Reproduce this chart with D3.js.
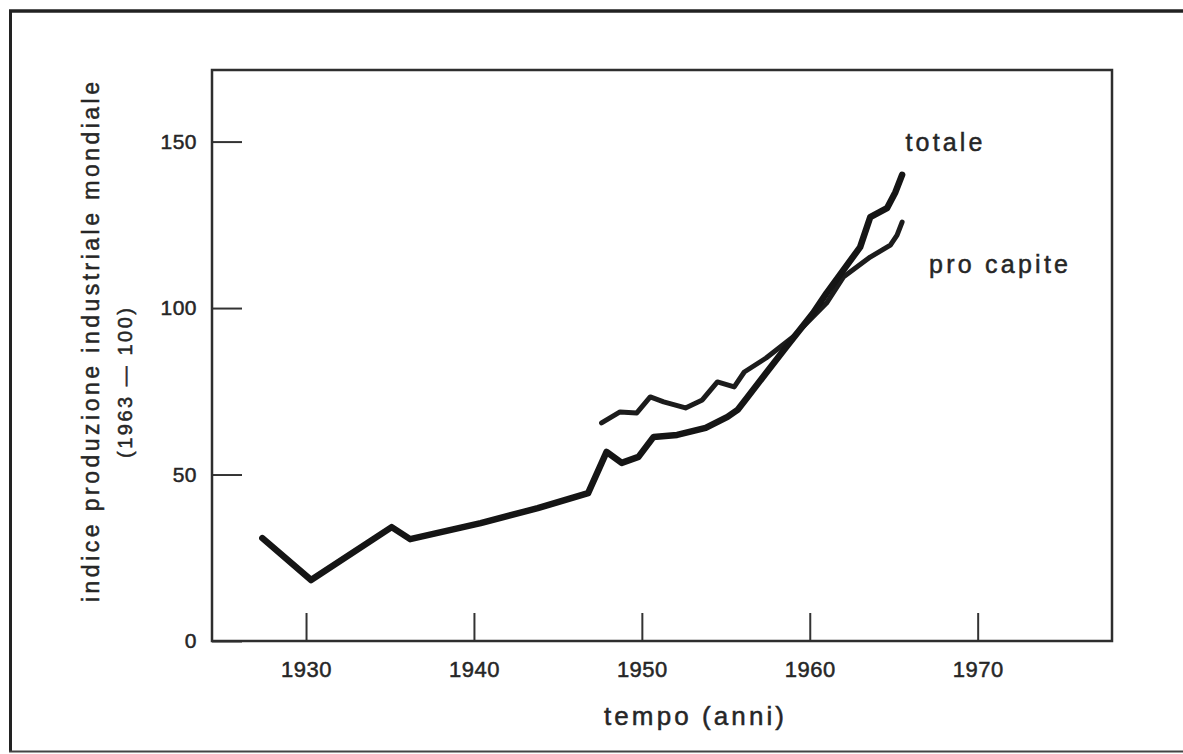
<!DOCTYPE html>
<html>
<head>
<meta charset="utf-8">
<script src="https://cdn.jsdelivr.net/npm/d3@7"></script>
<style>
  body { margin: 0; background: #fff; }
  text { font-family: "Liberation Sans", Arial, Helvetica, sans-serif; fill: #262626; stroke: #262626; stroke-width: 0.5px; }
</style>
</head>
<body>
<div id="chart"></div>
<script>
// data (year, index 1963 = 100)
const totaleYears = [1927.4, 1930.3, 1935.1, 1936.2, 1940.4, 1943.8, 1946.8, 1947.9, 1948.8, 1949.8, 1950.7, 1952.1, 1953.8, 1955.1, 1955.7, 1956.3, 1957.4, 1958.6, 1960.2, 1961.0, 1963.0, 1963.6, 1964.6, 1965.1, 1965.5];
const totaleValues = [30.9, 18.3, 34.2, 30.6, 35.4, 39.9, 44.4, 56.8, 53.5, 55.3, 61.3, 61.9, 64.0, 67.3, 69.4, 73.3, 80.5, 88.3, 98.5, 104.5, 118.3, 127.3, 130.0, 134.8, 140.0];
const capiteYears = [1947.6, 1948.7, 1949.7, 1950.5, 1951.3, 1952.6, 1953.6, 1954.5, 1955.5, 1956.1, 1957.4, 1959.0, 1961.0, 1962.0, 1963.6, 1964.8, 1965.2, 1965.5];
const capiteValues = [65.5, 68.8, 68.5, 73.3, 71.8, 70.0, 72.4, 77.8, 76.3, 80.8, 85.0, 91.3, 101.5, 109.3, 115.3, 118.9, 121.9, 125.8];
const xTicks = [1930, 1940, 1950, 1960, 1970];
const yTicks = [0, 50, 100, 150];

const W = 1183, H = 754;
const margin = { top: 70, right: 71, bottom: 113, left: 212 },
    width = W - margin.left - margin.right,
    height = H - margin.top - margin.bottom;

const root = d3.select("#chart")
    .append("svg")
    .attr("width", W)
    .attr("height", H);

// page border of the scanned figure
root.append("line").attr("x1", 9).attr("x2", W).attr("y1", 11).attr("y2", 11)
    .attr("stroke", "#222").attr("stroke-width", 3.5);
root.append("line").attr("x1", 10.5).attr("x2", 10.5).attr("y1", 10).attr("y2", 752)
    .attr("stroke", "#222").attr("stroke-width", 3);
root.append("line").attr("x1", 9).attr("x2", W).attr("y1", 751.5).attr("y2", 751.5)
    .attr("stroke", "#444").attr("stroke-width", 2);

const svg = root.append("g")
    .attr("transform", `translate(${margin.left},${margin.top})`);

const x = d3.scaleLinear().domain([1924.4, 1978]).range([0, width]);
const y = d3.scaleLinear().domain([0, 171.5]).range([height, 0]);

// X axis, ticks pointing inward
const gx = svg.append("g")
    .attr("transform", `translate(0, ${height})`)
    .call(d3.axisBottom(x).tickValues(xTicks).tickFormat(d3.format("d")).tickSize(-28).tickPadding(20));
gx.select(".domain").remove();
gx.selectAll("line").attr("stroke", "#333").attr("stroke-width", 2);
gx.selectAll("text").style("font-size", "22px").style("letter-spacing", "0.5px");

// Y axis, ticks pointing inward
const gy = svg.append("g")
    .call(d3.axisLeft(y).tickValues(yTicks).tickSize(-30).tickPadding(15));
gy.select(".domain").remove();
gy.selectAll("line").attr("stroke", "#333").attr("stroke-width", 2);
gy.selectAll("text").style("font-size", "21px").style("letter-spacing", "0.5px");

// frame
svg.append("rect")
    .attr("width", width)
    .attr("height", height)
    .attr("fill", "none")
    .attr("stroke", "#2e2e2e")
    .attr("stroke-width", 2.5);

const line = d3.line()
    .x(d => x(d[0]))
    .y(d => y(d[1]));

svg.append("path")
    .datum(d3.zip(capiteYears, capiteValues))
    .attr("d", line)
    .attr("fill", "none")
    .attr("stroke", "#1c1c1c")
    .attr("stroke-width", 5)
    .attr("stroke-linejoin", "round")
    .attr("stroke-linecap", "round");

svg.append("path")
    .datum(d3.zip(totaleYears, totaleValues))
    .attr("d", line)
    .attr("fill", "none")
    .attr("stroke", "#151515")
    .attr("stroke-width", 6.5)
    .attr("stroke-linejoin", "round")
    .attr("stroke-linecap", "round");

// series labels
svg.append("text")
    .attr("x", x(1965.7))
    .attr("y", y(147.3))
    .attr("textLength", 77)
    .style("font-size", "25px")
    .text("totale");

svg.append("text")
    .attr("x", x(1967.1))
    .attr("y", y(110.5))
    .attr("textLength", 139)
    .style("font-size", "25px")
    .text("pro capite");

// axis titles
root.append("text")
    .attr("x", 694)
    .attr("y", 725)
    .attr("text-anchor", "middle")
    .attr("textLength", 180)
    .style("font-size", "26px")
    .text("tempo (anni)");

root.append("text")
    .attr("transform", "translate(99,342)rotate(-90)")
    .attr("text-anchor", "middle")
    .attr("textLength", 520)
    .style("font-size", "23px")
    .text("indice produzione industriale mondiale");

root.append("text")
    .attr("transform", "translate(132,383)rotate(-90)")
    .attr("text-anchor", "middle")
    .attr("textLength", 150)
    .style("font-size", "20px")
    .text("(1963 \u2014 100)");
</script>
</body>
</html>
